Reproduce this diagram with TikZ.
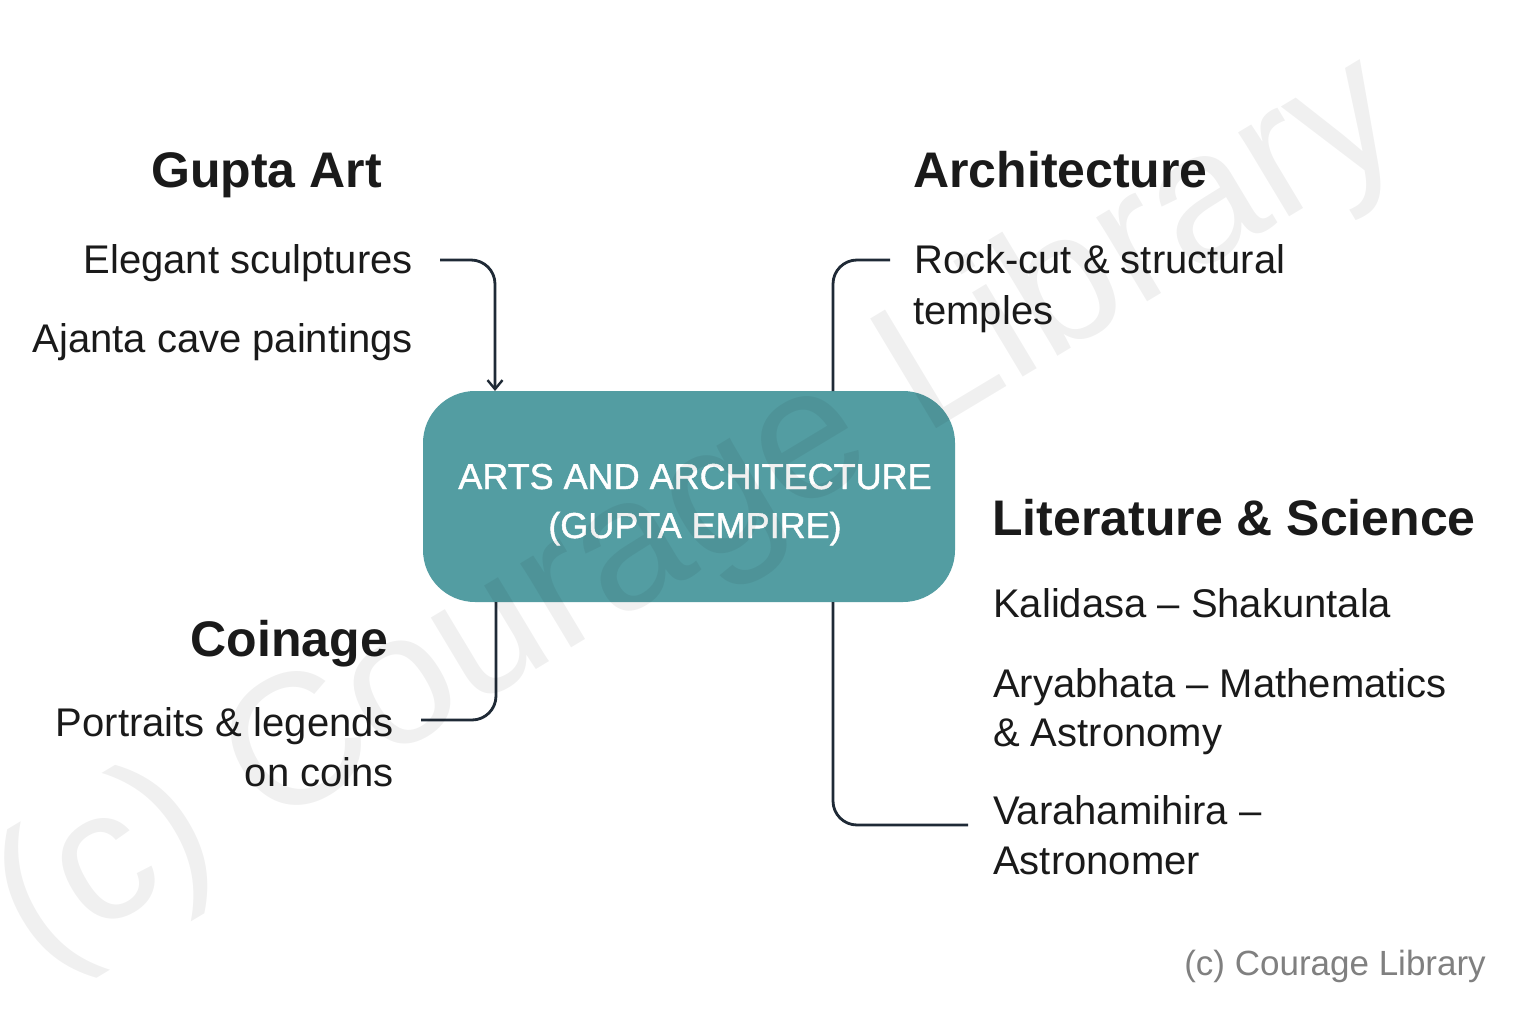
\documentclass[tikz,border=0pt]{standalone}
\usepackage{fontspec}
\setmainfont{Liberation Sans}
\newfontfamily\hubfont[FakeBold=1.2]{Liberation Sans}
\usetikzlibrary{arrows.meta}
\definecolor{teal1}{HTML}{539DA2}
\definecolor{ink}{HTML}{1F2A36}
\definecolor{txt}{HTML}{1A1A1A}
\begin{document}
\begin{tikzpicture}[x=1pt,y=-1pt,
  heading/.style={inner sep=0pt, text=txt, font=\fontsize{50}{60}\selectfont\bfseries},
  body/.style={inner sep=0pt, text=txt, font=\fontsize{40}{48}\selectfont},
  hubtext/.style={inner sep=0pt, anchor=base, text=white, font=\hubfont\fontsize{36}{43}\selectfont},
  conn/.style={draw=ink, line width=2.8pt, rounded corners=24pt},
  hub/.style={fill=teal1, rounded corners=52pt, draw=none}]
\path[use as bounding box, fill=white] (0,0) rectangle (1536,1024);

% central box
\path[hub] (423,391) rectangle (955,602);
\node (box) [inner sep=0pt, minimum width=532pt, minimum height=211pt] at (689,496.5) {};
\node (c1) [hubtext] at (695,489) {ARTS AND ARCHITECTURE};
\node (c2) [hubtext] at (695,538) {(GUPTA EMPIRE)};

% Gupta Art
\node (gart) [heading, anchor=base east] at (382,188) {Gupta Art};
\node (sculp) [body, anchor=base east] at (413,274) {Elegant sculptures};
\node (ajanta) [body, anchor=base east] at (413,352) {Ajanta cave paintings};

% Architecture
\node (arch) [heading, anchor=base west] at (913,188) {Architecture};
\node (rock) [body, anchor=base west] at (914,274) {Rock-cut \& structural};
\node (temp) [body, anchor=base west] at (913,324) {temples};

% Literature & Science
\node (lit) [heading, anchor=base west] at (992,535) {Literature \& Science};
\node (kal) [body, anchor=base west] at (993,617) {Kalidasa – Shakuntala};
\node (arya) [body, anchor=base west] at (993,697) {Aryabhata – Mathematics};
\node (astr) [body, anchor=base west] at (993,746) {\& Astronomy};
\node (vara) [body, anchor=base west] at (993,824) {Varahamihira –};
\node (astro) [body, anchor=base west] at (993,874) {Astronomer};

% Coinage
\node (coin) [heading, anchor=base east] at (388,656) {Coinage};
\node (port) [body, anchor=base east] at (394,736) {Portraits \& legends};
\node (oncoin) [body, anchor=base east] at (394,786) {on coins};

% connector end points
\coordinate (pA) at (440,260);
\coordinate (bA) at (495,391);
\coordinate (pB) at (890,260);
\coordinate (bB) at (833,391);
\coordinate (pC) at (968,825);
\coordinate (bC) at (833,602);
\coordinate (pD) at (421,720);
\coordinate (bD) at (496,602);

\draw[conn, -{Straight Barb[length=9pt,width=15pt,line width=2.4pt]}] (pA) -| (bA);
\draw[conn] (pB) -| (bB);
\draw[conn] (pC) -| (bC);
\draw[conn] (pD) -| (bD);

% watermarks
\node (wm) [inner sep=0pt, text=black, text opacity=0.06, rotate=31, font=\fontsize{186}{200}\selectfont] at (700,515) {(c) Courage Library};
\node (wm2) [inner sep=0pt, anchor=base east, text=black!50, font=\fontsize{35}{42}\selectfont] at (1486,975) {(c) Courage Library};
\end{tikzpicture}
\end{document}
